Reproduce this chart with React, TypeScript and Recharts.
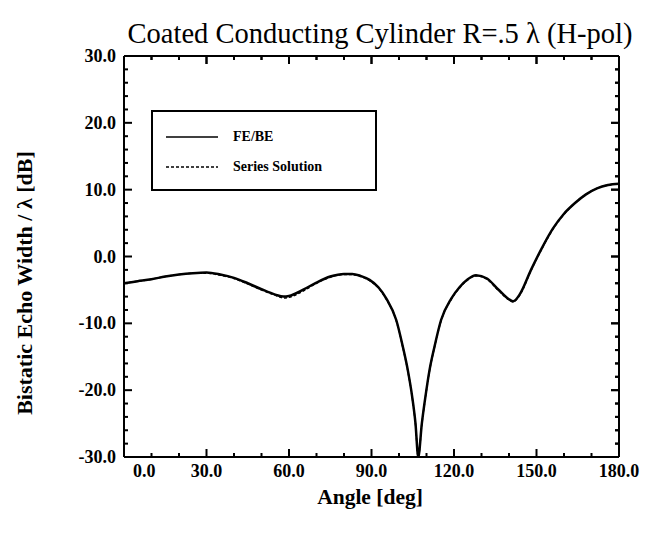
import React from "react";
import { LineChart, Line, XAxis, YAxis, Legend, ReferenceLine } from "recharts";

// angle grid [deg]
const angles = [
  0, 5, 10, 15, 20, 25, 30, 35, 40, 45, 50, 55, 58, 60, 65, 70, 75, 80, 83, 86,
  89.3, 92.5, 95.4, 99, 101.4, 103.2, 104.8, 106, 107, 108.3, 109.6, 111.1, 112.9,
  115.3, 119, 122, 125, 128, 132, 136, 140, 141.5, 144, 148, 152, 156, 160, 164,
  168, 172, 176, 180,
];

// FE/BE result [dB]
const feBe = [
  -4.0, -3.7, -3.4, -3.0, -2.7, -2.5, -2.4, -2.7, -3.2, -4.0, -4.9, -5.7, -6.0,
  -5.9, -5.0, -3.9, -3.0, -2.6, -2.6, -2.9, -3.5, -4.6, -6.3, -9.5, -13.5,
  -17.0, -21.0, -25.0, -30.0, -25.0, -21.0, -17.0, -13.5, -9.5, -6.3, -4.6,
  -3.4, -2.8, -3.3, -4.9, -6.4, -6.7, -5.6, -2.0, 1.3, 4.2, 6.4, 8.0, 9.3,
  10.2, 10.7, 10.9,
];

// series solution [dB]
const seriesSol = [
  -4.0, -3.7, -3.4, -3.0, -2.7, -2.5, -2.5, -2.8, -3.3, -4.1, -5.0, -5.8, -6.2,
  -6.1, -5.2, -4.0, -3.1, -2.7, -2.7, -3.0, -3.6, -4.7, -6.4, -9.6, -13.6,
  -17.1, -21.1, -25.1, -30.0, -25.1, -21.1, -17.1, -13.6, -9.6, -6.4, -4.7,
  -3.5, -2.9, -3.4, -5.0, -6.5, -6.8, -5.7, -2.1, 1.2, 4.1, 6.3, 8.0, 9.3,
  10.2, 10.7, 10.9,
];

const xMajor = [0, 30, 60, 90, 120, 150, 180];
const xTicks = [0, 10, 20, 30, 40, 50, 60, 70, 80, 90, 100, 110, 120, 130, 140, 150, 160, 170, 180];
const yMajor = [-30, -20, -10, 0, 10, 20, 30];
const yTicks = [
  -30, -28, -26, -24, -22, -20, -18, -16, -14, -12, -10, -8, -6, -4, -2, 0, 2,
  4, 6, 8, 10, 12, 14, 16, 18, 20, 22, 24, 26, 28, 30,
];

const FONT = '"Liberation Serif", "Times New Roman", serif';
const AXIS = { stroke: "#000", strokeWidth: 2 };
const LABEL_SIZE = 18;
// mirrored tick lengths on top / right edges, in axis units (~8px major, ~4px minor)
const TOP_TICK = { major: 1.2, minor: 0.6 };
const RIGHT_TICK = { major: 2.9, minor: 1.45 };

const chartData = angles.map((a, i) => ({
  angle: a,
  feBe: feBe[i],
  series: seriesSol[i],
}));

// inward tick marks (major / minor) plus optional label; x,y is the point on the axis line
const makeTick = (side: "bottom" | "top" | "left" | "right", major: number[], label: boolean) =>
  (props: any) => {
    const { x, y, payload } = props;
    const v = payload.value as number;
    const isMajor = major.includes(v);
    const len = isMajor ? 8 : 4;
    let x2 = x;
    let y2 = y;
    if (side === "bottom") y2 = y - len;
    if (side === "top") y2 = y + len;
    if (side === "left") x2 = x + len;
    if (side === "right") x2 = x - len;
    let text = null;
    if (label && isMajor) {
      const common = { fill: "#000", fontSize: LABEL_SIZE, fontWeight: "bold", fontFamily: FONT };
      if (side === "bottom") {
        text = (
          <text x={v === 0 ? x + 9 : x} y={y + 20} textAnchor={v === 0 ? "start" : "middle"} {...common}>
            {v.toFixed(1)}
          </text>
        );
      } else if (side === "left") {
        text = (
          <text x={x - 8} y={y + 6} textAnchor="end" {...common}>
            {v.toFixed(1)}
          </text>
        );
      }
    }
    return (
      <g>
        <line x1={x} y1={y} x2={x2} y2={y2} stroke="#000" strokeWidth={2} />
        {text}
      </g>
    );
  };

const renderLegend = (props: any) => {
  const items = props.payload || [];
  return (
    <div
      style={{
        position: "relative",
        width: 226,
        height: 81,
        border: "2px solid #000",
        boxSizing: "border-box",
        background: "#fff",
        fontFamily: FONT,
        fontWeight: "bold",
        fontSize: 14,
      }}
    >
      {items.map((entry: any, i: number) => (
        <div
          key={entry.value}
          style={{ position: "absolute", left: 13, top: 17 + i * 30, height: 16, display: "flex", alignItems: "center" }}
        >
          <svg width={52} height={4} style={{ display: "block" }}>
            <line
              x1={0}
              y1={2}
              x2={52}
              y2={2}
              stroke="#000"
              strokeWidth={1.5}
              strokeDasharray={entry.payload?.strokeDasharray}
            />
          </svg>
          <span style={{ marginLeft: 15, whiteSpace: "nowrap" }}>{entry.value}</span>
        </div>
      ))}
    </div>
  );
};

export default function App() {
  const [xMin, xMax] = [xMajor[0], xMajor[xMajor.length - 1]];
  const yMax = yMajor[yMajor.length - 1];
  return (
    <div style={{ position: "absolute", left: 0, top: 0, width: 646, height: 540, background: "#fff" }}>
      <div
        style={{
          position: "absolute",
          left: 380,
          top: 18,
          transform: "translateX(-50%)",
          fontFamily: FONT,
          fontSize: 28.5,
          whiteSpace: "nowrap",
        }}
      >
        Coated Conducting Cylinder R=.5 λ (H-pol)
      </div>
      <div
        style={{
          position: "absolute",
          left: 25,
          top: 283,
          transform: "translate(-50%, -50%) rotate(-90deg)",
          fontFamily: FONT,
          fontSize: 22,
          fontWeight: "bold",
          whiteSpace: "nowrap",
        }}
      >
        Bistatic Echo Width / λ [dB]
      </div>
      <div
        style={{
          position: "absolute",
          left: 370,
          top: 485,
          transform: "translateX(-50%)",
          fontFamily: FONT,
          fontSize: 21.5,
          fontWeight: "bold",
          whiteSpace: "nowrap",
        }}
      >
        Angle [deg]
      </div>
      <LineChart
        width={646}
        height={540}
        data={chartData}
        margin={{ top: 46, right: 17, bottom: 53, left: 64 }}
      >
        <XAxis
          xAxisId="x"
          dataKey="angle"
          type="number"
          domain={[xMin, xMax]}
          ticks={xTicks}
          interval={0}
          height={30}
          axisLine={AXIS}
          tickLine={false}
          tickSize={0}
          tickMargin={0}
          tick={makeTick("bottom", xMajor, true)}
        />
        <XAxis
          xAxisId="xtop"
          orientation="top"
          dataKey="angle"
          type="number"
          domain={[xMin, xMax]}
          ticks={xTicks}
          interval={0}
          height={10}
          axisLine={AXIS}
          tickSize={0}
          tickMargin={0}
          tick={makeTick("top", xMajor, false)}
        />
        <YAxis
          yAxisId="y"
          type="number"
          domain={[-30, 30]}
          ticks={yTicks}
          interval={0}
          width={60}
          allowDataOverflow
          axisLine={AXIS}
          tickLine={false}
          tickSize={0}
          tickMargin={0}
          tick={makeTick("left", yMajor, true)}
        />
        <YAxis
          yAxisId="yright"
          orientation="right"
          type="number"
          domain={[-30, 30]}
          ticks={yTicks}
          interval={0}
          width={10}
          axisLine={AXIS}
          tickSize={0}
          tickMargin={0}
          tick={makeTick("right", yMajor, false)}
        />
        {/* inward tick marks along the top and right frame edges */}
        {xTicks.map((v) => {
          const l = xMajor.includes(v) ? TOP_TICK.major : TOP_TICK.minor;
          return (
            <ReferenceLine
              key={`top-${v}`}
              xAxisId="x"
              yAxisId="y"
              segment={[{ x: v, y: yMax }, { x: v, y: yMax - l }]}
              stroke="#000"
              strokeWidth={2}
            />
          );
        })}
        {yTicks.map((v) => {
          const l = yMajor.includes(v) ? RIGHT_TICK.major : RIGHT_TICK.minor;
          return (
            <ReferenceLine
              key={`right-${v}`}
              xAxisId="x"
              yAxisId="y"
              segment={[{ x: xMax, y: v }, { x: xMax - l, y: v }]}
              stroke="#000"
              strokeWidth={2}
            />
          );
        })}
        <Legend
          layout="vertical"
          align="center"
          verticalAlign="middle"
          content={renderLegend}
          wrapperStyle={{ left: 151, top: 110, width: 226 }}
        />
        <Line
          xAxisId="x"
          yAxisId="y"
          name="FE/BE"
          type="monotone"
          dataKey="feBe"
          stroke="#000"
          strokeWidth={2.5}
          dot={false}
          isAnimationActive={false}
        />
        {/* drawn against the mirrored top/right axes (same domains) */}
        <Line
          xAxisId="xtop"
          yAxisId="yright"
          name="Series Solution"
          type="monotone"
          dataKey="series"
          stroke="#000"
          strokeWidth={1.5}
          strokeDasharray="3 2"
          dot={false}
          isAnimationActive={false}
        />
      </LineChart>
    </div>
  );
}
